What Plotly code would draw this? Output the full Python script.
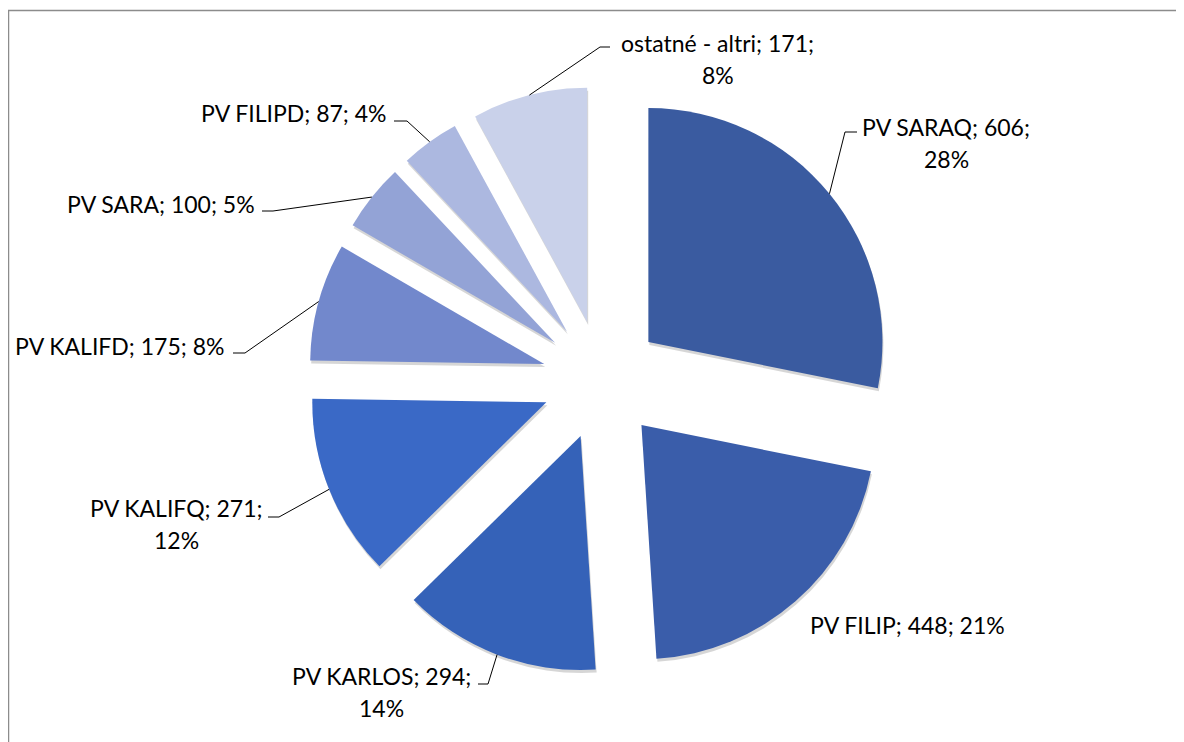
import math
import plotly.graph_objects as go

# ---------------- data ----------------
labels = ["PV SARAQ", "PV FILIP", "PV KARLOS", "PV KALIFQ", "PV KALIFD", "PV SARA", "PV FILIPD", "ostatné - altri"]
values = [606, 448, 294, 271, 175, 100, 87, 171]
percents = ["28%", "21%", "14%", "12%", "8%", "5%", "4%", "8%"]
wrapped = [True, False, True, True, False, False, False, True]

# ---------------- style / layout ----------------
colors = ["#3A5BA0", "#3A5DAA", "#3562B8", "#3A69C6", "#7288CC", "#93A3D6", "#ACB8E0", "#C9D1EA"]
VIEW_W, VIEW_H = 1184, 742
OFF = 8  # page body margin
W, H = VIEW_W - OFF, VIEW_H - OFF
PULL = 0.256
# pie domain in screen pixels (left, top, right, bottom)
DOM = (308, 86, 896, 674)
FONT = "Lato"
FSIZE = 23
LINE_GAP = 32

# label block position (x, y of first line, anchor) in screen pixels
label_pos = [
    (946, 127, "center"),
    (808, 625, "left"),
    (381, 676, "center"),
    (176, 508, "center"),
    (226, 346, "right"),
    (257, 204, "right"),
    (389, 113, "right"),
    (718, 43, "center"),
]
# leader elbows (elbow point, end point) in screen pixels; None = no leader
leaders = [
    ((845, 132), (857, 132)),
    None,
    ((488, 684), (478, 684)),
    ((279, 517), (268, 517)),
    ((245, 353), (233, 353)),
    ((273, 211), (262, 211)),
    ((407, 121), (394, 121)),
    ((600, 47), (610, 47)),
]


def px(x):
    return (x - OFF) / W


def py(y):
    return 1 - (y - OFF) / H


fig = go.Figure()

dom_x = [px(DOM[0]), px(DOM[2])]
dom_y = [py(DOM[3]), py(DOM[1])]

# soft shadow
fig.add_trace(go.Pie(
    labels=labels, values=values, sort=False, direction="clockwise", rotation=0,
    pull=[PULL] * len(values), textinfo="none", hoverinfo="skip", showlegend=False,
    marker=dict(colors=["rgba(0,0,0,0.16)"] * len(values), line=dict(width=0)),
    domain=dict(x=[px(DOM[0] + 1), px(DOM[2] + 1)], y=[py(DOM[3] + 3), py(DOM[1] + 3)]),
))

fig.add_trace(go.Pie(
    labels=labels, values=values, sort=False, direction="clockwise", rotation=0,
    pull=[PULL] * len(values), textinfo="none", showlegend=False,
    marker=dict(colors=colors, line=dict(width=0)),
    domain=dict(x=dom_x, y=dom_y),
))

# geometry for leader-line starts (computed from the data)
cx = (DOM[0] + DOM[2]) / 2
cy = (DOM[1] + DOM[3]) / 2
Rtot = min(DOM[2] - DOM[0], DOM[3] - DOM[1]) / 2
total = sum(values)

annotations = []
shapes = []
cum = 0
for i, (lab, val, pct) in enumerate(zip(labels, values, percents)):
    mid = (cum + val / 2) / total * 2 * math.pi
    cum += val
    if wrapped[i]:
        lines = [f"{lab}; {val};", pct]
    else:
        lines = [f"{lab}; {val}; {pct}"]
    x, y, anchor = label_pos[i]
    for k, line in enumerate(lines):
        annotations.append(dict(
            text=line, x=px(x), y=py(y + k * LINE_GAP), xref="paper", yref="paper",
            xanchor=anchor, yanchor="middle", showarrow=False,
            font=dict(family=FONT, size=FSIZE, color="#000000"),
        ))
    if leaders[i] is not None:
        sx = cx + Rtot * math.sin(mid)
        sy = cy - Rtot * math.cos(mid)
        (ex, ey), (fx, fy) = leaders[i]
        path = f"M {px(sx)},{py(sy)} L {px(ex)},{py(ey)} L {px(fx)},{py(fy)}"
        shapes.append(dict(type="path", path=path, xref="paper", yref="paper",
                           line=dict(color="#000000", width=1)))

# chart frame (left and top edges visible)
shapes.append(dict(type="line", xref="paper", yref="paper", x0=px(8.5), x1=px(8.5), y0=0, y1=py(10),
                   line=dict(color="#8C8C8C", width=1.5)))
shapes.append(dict(type="line", xref="paper", yref="paper", x0=px(8), x1=1, y0=py(10.5), y1=py(10.5),
                   line=dict(color="#8C8C8C", width=1.5)))

fig.update_layout(
    width=W, height=H,
    margin=dict(l=0, r=0, t=0, b=0),
    paper_bgcolor="white", plot_bgcolor="white",
    annotations=annotations, shapes=shapes,
    showlegend=False,
)

fig.write_html("out.html", config={"displayModeBar": False})
